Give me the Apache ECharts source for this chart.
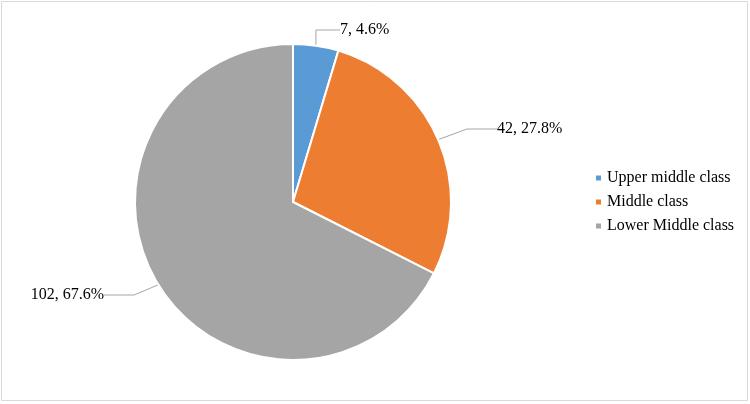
<!DOCTYPE html>
<html><head><meta charset="utf-8">
<script src="https://cdn.jsdelivr.net/npm/echarts@6/dist/echarts.min.js"></script>
<style>html,body{margin:0;padding:0;background:#fff}#c{width:750px;height:404px}</style>
</head><body><div id="c"></div>
<script>
const categories = ["Upper middle class", "Middle class", "Lower Middle class"];
const values = [7, 42, 102];
const percentLabels = ["4.6%", "27.8%", "67.6%"];
const colors = ["#5B9BD5", "#ED7D31", "#A5A5A5"];
const labelPos = [
  {x: 340, y: 30, align: 'left'},
  {x: 497, y: 129, align: 'left'},
  {x: 104, y: 295, align: 'right'}
];
const chart = echarts.init(document.getElementById('c'));
chart.setOption({
  animation: false,
  graphic: [{type: 'rect', shape: {x: 1.5, y: 1.5, width: 746, height: 399}, style: {fill: 'none', stroke: '#D9D9D9', lineWidth: 1}}],
  legend: {
    orient: 'vertical', left: 589, top: 165, itemWidth: 7, itemHeight: 7, itemGap: 8, icon: 'rect',
    textStyle: {fontFamily: 'Liberation Serif', fontSize: 16, color: '#000'},
    data: categories
  },
  series: [{
    type: 'pie', center: [293, 202], radius: [0, 158], startAngle: 90, clockwise: true,
    data: categories.map((c, i) => ({name: c, value: values[i], itemStyle: {color: colors[i]}})),
    itemStyle: {borderColor: '#fff', borderWidth: 2},
    label: {
      show: true, position: 'outside',
      formatter: p => values[p.dataIndex] + ', ' + percentLabels[p.dataIndex],
      fontFamily: 'Liberation Serif', fontSize: 16, color: '#000'
    },
    labelLine: {show: true, lineStyle: {color: '#A6A6A6', width: 1}},
    labelLayout: p => ({x: labelPos[p.dataIndex].x, y: labelPos[p.dataIndex].y, align: labelPos[p.dataIndex].align, verticalAlign: 'middle'})
  }]
});
</script></body></html>
